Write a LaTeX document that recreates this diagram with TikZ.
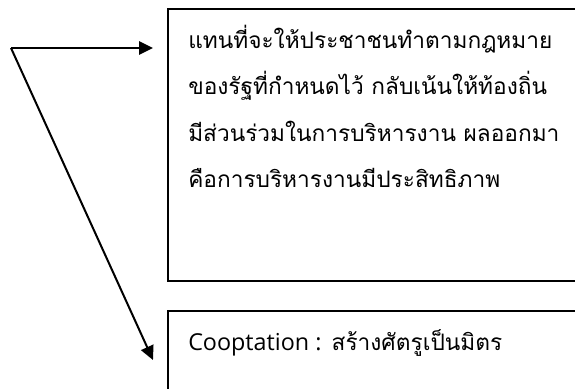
\documentclass[tikz,border=0pt]{standalone}
\usepackage{fontspec}
\usetikzlibrary{arrows.meta}
\newfontfamily\thaifont[Script=Thai]{Loma}
\newfontfamily\latinfont{Open Sans}
\begin{document}
\begin{tikzpicture}[x=0.75pt,y=-0.75pt,
  boxline/.style={draw,line width=1.5pt,inner sep=0pt,anchor=north west},
  conn/.style={line width=1.5pt,-{Triangle[length=10.5pt,width=10pt]}},
  txt/.style={anchor=base west,inner sep=0pt,font=\thaifont\fontsize{17}{21}\selectfont}]
\useasboundingbox (0,0) rectangle (575,389);
\node[boxline,minimum width=317.25pt,minimum height=204pt] (box1) at (167,8) {};
\node[boxline,minimum width=317.25pt,minimum height=67.5pt] (box2) at (167,310) {};
\node[txt] (l1) at (188,48) {แทนที่จะให้ประชาชนทำตามกฎหมาย};
\node[txt] (l2) at (188,94.5) {ของรัฐที่กำหนดไว้ กลับเน้นให้ท้องถิ่น};
\node[txt] (l3) at (188,141) {มีส่วนร่วมในการบริหารงาน ผลออกมา};
\node[txt] (l4) at (188,187.5) {คือการบริหารงานมีประสิทธิภาพ};
\node[txt] (c1) at (188,350) {{\latinfont\fontsize{17.5}{21}\selectfont Cooptation :} สร้างศัตรูเป็นมิตร};
\coordinate (s) at (11,48);
\coordinate (e1) at (153,48);
\coordinate (e2) at (153,360);
\draw[conn] (s) -- (e1);
\draw[conn] (s) -- (e2);
\end{tikzpicture}
\end{document}
